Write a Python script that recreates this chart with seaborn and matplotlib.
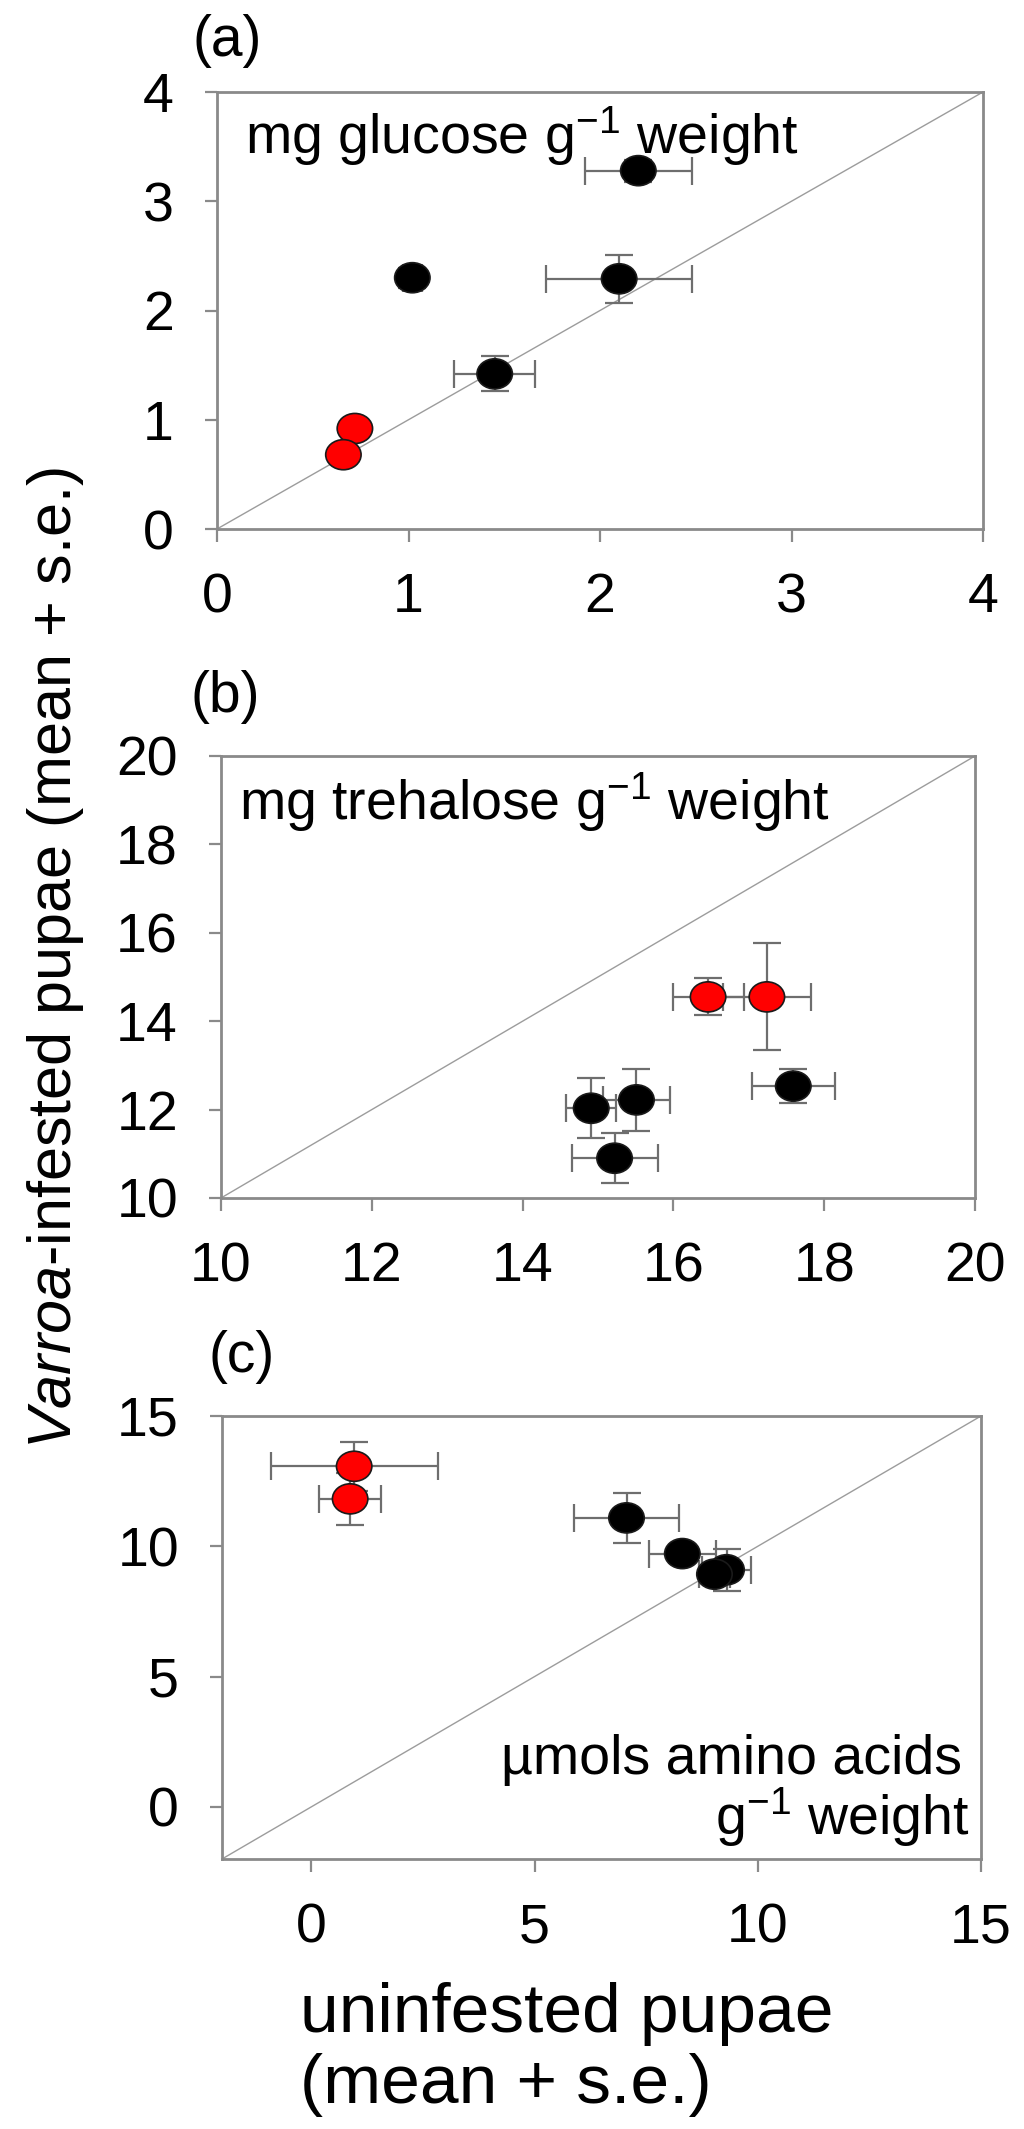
import pandas as pd
import matplotlib
matplotlib.use("Agg")
import matplotlib.pyplot as plt
import seaborn as sns
from matplotlib.path import Path
from matplotlib.transforms import Affine2D

# Values: x = uninfested pupae, y = Varroa-infested pupae
groups = ["black", "black", "black", "black", "red", "red"]

glucose_x = [2.20, 1.02, 2.10, 1.45, 0.72, 0.66]
glucose_y = [3.28, 2.30, 2.29, 1.42, 0.92, 0.68]
glucose_xerr = [0.28, 0.05, 0.38, 0.21, 0.03, 0.03]
glucose_yerr = [0.10, 0.09, 0.22, 0.16, 0.05, 0.04]

trehalose_x = [17.59, 14.91, 15.51, 15.22, 16.46, 17.24]
trehalose_y = [12.53, 12.03, 12.22, 10.90, 14.55, 14.55]
trehalose_xerr = [0.55, 0.33, 0.44, 0.57, 0.47, 0.58]
trehalose_yerr = [0.38, 0.68, 0.70, 0.57, 0.42, 1.21]

amino_x = [7.06, 8.31, 9.30, 9.03, 0.96, 0.87]
amino_y = [11.09, 9.72, 9.10, 8.93, 13.07, 11.82]
amino_xerr = [1.17, 0.75, 0.55, 0.35, 1.87, 0.69]
amino_yerr = [0.95, 0.30, 0.80, 0.35, 0.93, 1.00]

# axis limits and ticks (same on x and y)
glucose_lim = [0, 4]
glucose_ticks = [0, 1, 2, 3, 4]
trehalose_lim = [10, 20]
trehalose_ticks = [10, 12, 14, 16, 18, 20]
amino_lim = [-2, 15]
amino_ticks = [0, 5, 10, 15]

panel_labels = ["(a)", "(b)", "(c)"]

# Style
sns.set_style("white")
plt.rcParams["font.family"] = ["Liberation Sans", "DejaVu Sans"]
plt.rcParams["text.color"] = "black"
plt.rcParams["mathtext.fontset"] = "custom"
plt.rcParams["mathtext.rm"] = "Liberation Sans"
plt.rcParams["mathtext.it"] = "Liberation Sans:italic"
plt.rcParams["mathtext.bf"] = "Liberation Sans:bold"

W, H = 1024, 2129
fig = plt.figure(figsize=(W / 100, H / 100), dpi=100)


def px_axes(left, right, top, bottom):
    # axes rectangle given in pixel coordinates of the final image
    return fig.add_axes([left / W, 1 - bottom / H, (right - left) / W, (bottom - top) / H])


ax_a = px_axes(217, 983, 92, 529)
ax_b = px_axes(221, 975, 756, 1198)
ax_c = px_axes(222, 981, 1416, 1859)

# slightly wide ellipse marker, like the stretched original
ellipse = Path.unit_circle().transformed(Affine2D().scale(1.0, 0.85))

spine_grey = "#8a8a8a"
err_grey = "#6e6e6e"
palette = {"black": "black", "red": "#ff0000"}


def panel(ax, xs, ys, xerr, yerr, lim, ticks):
    df = pd.DataFrame({"x": xs, "y": ys, "xerr": xerr, "yerr": yerr, "group": groups})
    ax.axline((lim[0], lim[0]), slope=1, color="#9c9c9c", lw=1.0, zorder=1)
    ax.errorbar(df["x"], df["y"], xerr=df["xerr"], yerr=df["yerr"], fmt="none",
                ecolor=err_grey, elinewidth=1.6, capsize=10, capthick=1.6, zorder=2)
    sns.scatterplot(data=df, x="x", y="y", hue="group", palette=palette, marker=ellipse,
                    s=650, edgecolor="#1a1a1a", linewidth=1.2, legend=False, ax=ax, zorder=3)
    ax.set_xlim(lim)
    ax.set_ylim(lim)
    ax.set_xticks(ticks)
    ax.set_yticks(ticks)
    ax.set_xlabel("")
    ax.set_ylabel("")
    ax.tick_params(direction="out", length=9, width=1.6, color=spine_grey,
                   labelcolor="black", labelsize=40, pad=22, bottom=True, left=True)
    for s in ax.spines.values():
        s.set_visible(True)
        s.set_color(spine_grey)
        s.set_linewidth(2)


panel(ax_a, glucose_x, glucose_y, glucose_xerr, glucose_yerr, glucose_lim, glucose_ticks)
panel(ax_b, trehalose_x, trehalose_y, trehalose_xerr, trehalose_yerr, trehalose_lim, trehalose_ticks)
panel(ax_c, amino_x, amino_y, amino_xerr, amino_yerr, amino_lim, amino_ticks)

# text inside the panels
ax_a.text(0.037, 0.858, r"mg glucose g$^{-1}$ weight", transform=ax_a.transAxes,
          fontsize=40, ha="left", va="baseline")
ax_b.text(0.024, 0.857, r"mg trehalose g$^{-1}$ weight", transform=ax_b.transAxes,
          fontsize=40, ha="left", va="baseline")
ax_c.text(0.975, 0.192, "\u00b5mols amino acids", transform=ax_c.transAxes,
          fontsize=40, ha="right", va="baseline")
ax_c.text(0.985, 0.056, r"g$^{-1}$ weight", transform=ax_c.transAxes,
          fontsize=40, ha="right", va="baseline")

# panel letters
fig.text(192 / W, 1 - 41 / H, panel_labels[0], fontsize=41, ha="left", va="center")
fig.text(190 / W, 1 - 697 / H, panel_labels[1], fontsize=41, ha="left", va="center")
fig.text(208 / W, 1 - 1357 / H, panel_labels[2], fontsize=41, ha="left", va="center")

# shared axis titles
fig.text(56 / W, 1 - 958 / H, r"$\it{Varroa}$-infested pupae (mean + s.e.)",
         fontsize=44, rotation=90, ha="center", va="center")
fig.text(300 / W, 1 - 2032 / H, "uninfested pupae", fontsize=50, ha="left", va="baseline")
fig.text(300 / W, 1 - 2103 / H, "(mean + s.e.)", fontsize=50, ha="left", va="baseline")

fig.savefig("out.png", dpi=100, facecolor="white")
